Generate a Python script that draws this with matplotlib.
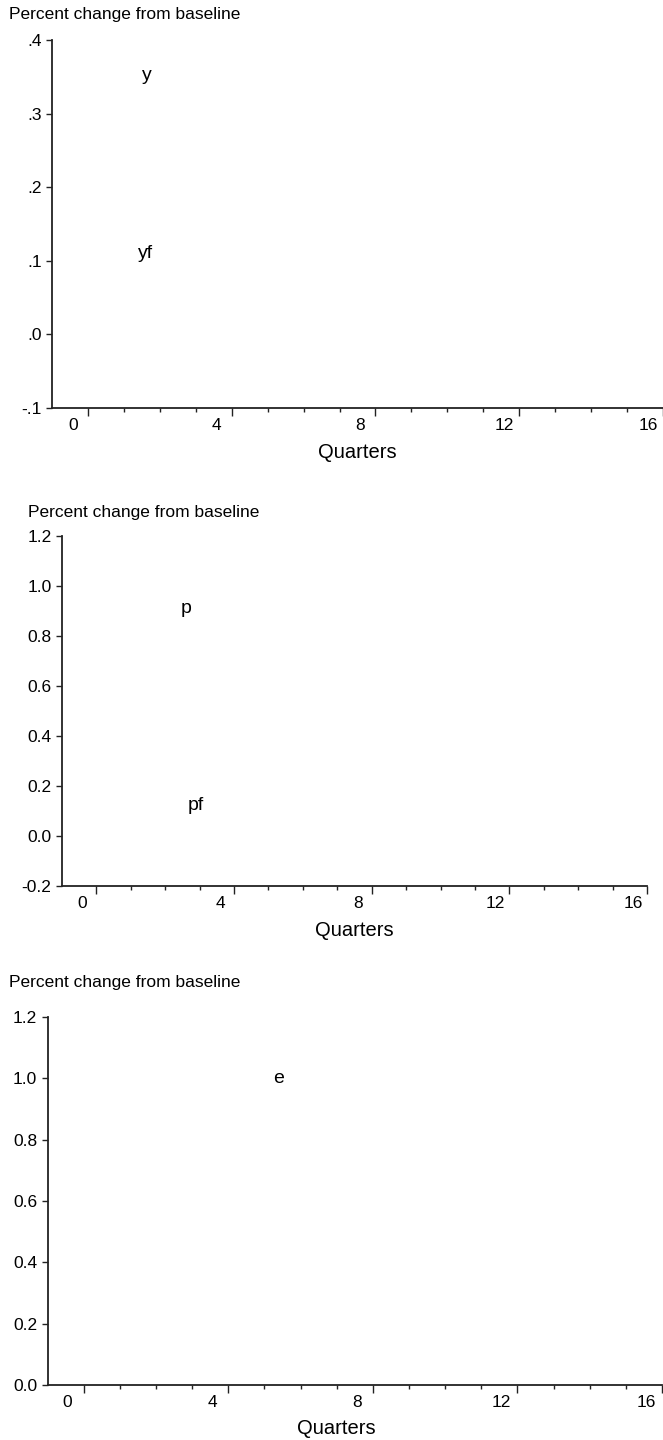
import matplotlib
matplotlib.use("Agg")
import matplotlib.pyplot as plt
import matplotlib.transforms as mtransforms
import numpy as np

plt.rcParams['font.family'] = ['Liberation Sans', 'DejaVu Sans']

W, H = 663, 1440

# x axis: quarters after the shock
quarter_marks = [0, 4, 8, 12, 16]
quarter_labels = ["0", "4", "8", "12", "16"]

# panel 1: output
out_ticks = [-0.1, 0.0, 0.1, 0.2, 0.3, 0.4]
out_ticklabels = ["-.1", ".0", ".1", ".2", ".3", ".4"]
out_names = ["y", "yf"]
out_name_x = [2.15, 2.1]
out_name_y = [0.352, 0.11]

# panel 2: prices
price_ticks = [-0.2, 0.0, 0.2, 0.4, 0.6, 0.8, 1.0, 1.2]
price_ticklabels = ["-0.2", "0.0", "0.2", "0.4", "0.6", "0.8", "1.0", "1.2"]
price_names = ["p", "pf"]
price_name_x = [3.1, 3.4]
price_name_y = [0.91, 0.12]

# panel 3: exchange rate
exch_ticks = [0.0, 0.2, 0.4, 0.6, 0.8, 1.0, 1.2]
exch_ticklabels = ["0.0", "0.2", "0.4", "0.6", "0.8", "1.0", "1.2"]
exch_names = ["e"]
exch_name_x = [5.9]
exch_name_y = [1.0]

fig = plt.figure(figsize=(W / 100, H / 100), dpi=100)


def panel(box, yticks, yticklabels, names, nx, ny, title_pos, shift, xlab_x):
    left, right, top, bottom = box
    ax = fig.add_axes([left / W, 1 - bottom / H, (right - left) / W, (bottom - top) / H])
    ax.set_xlim(-0.5, 16.5)
    ax.set_ylim(yticks[0], yticks[-1])
    for s in ["top", "right"]:
        ax.spines[s].set_visible(False)
    for s in ["left", "bottom"]:
        ax.spines[s].set_linewidth(1.3)
        ax.spines[s].set_color("#222222")

    ax.set_xticks([m + 0.5 for m in quarter_marks])
    ax.set_xticklabels(quarter_labels)
    ax.set_xticks(np.arange(0.5, 16.6, 1.0), minor=True)
    ax.set_yticks(yticks)
    ax.set_yticklabels(yticklabels)
    ax.tick_params(axis="x", which="major", direction="out", length=6, width=1,
                   pad=1.5, labelsize=12.5, color="#222222")
    ax.tick_params(axis="x", which="minor", direction="out", length=2.8, width=1,
                   color="#222222")
    ax.tick_params(axis="y", direction="out", length=4.5, width=1, pad=3,
                   labelsize=12.5, color="#222222")
    # labels sit at the quarter, ticks between quarters
    off = mtransforms.ScaledTranslation(shift / 100, 0, fig.dpi_scale_trans)
    for lab in ax.get_xticklabels():
        lab.set_transform(lab.get_transform() + off)

    for name, x, y in zip(names, nx, ny):
        ax.text(x, y, name, ha="center", va="center", fontsize=14)

    ax.set_xlabel("Quarters", fontsize=14.5)
    ax.xaxis.label.set_va("center")
    ax.xaxis.set_label_coords(xlab_x, -44 / (bottom - top))

    fig.text(title_pos[0] / W, 1 - title_pos[1] / H, "Percent change from baseline",
             ha="left", va="center", fontsize=12.5)
    return ax


panel((52, 663, 40, 408), out_ticks, out_ticklabels, out_names, out_name_x, out_name_y,
      (9, 15), -15, 0.5)
panel((62, 647, 536, 886), price_ticks, price_ticklabels, price_names, price_name_x,
      price_name_y, (28, 512), -14, 0.5)
panel((47.5, 662, 1017, 1385), exch_ticks, exch_ticklabels, exch_names, exch_name_x,
      exch_name_y, (9, 983), -16, 0.47)

fig.savefig("out.png", dpi=100)
